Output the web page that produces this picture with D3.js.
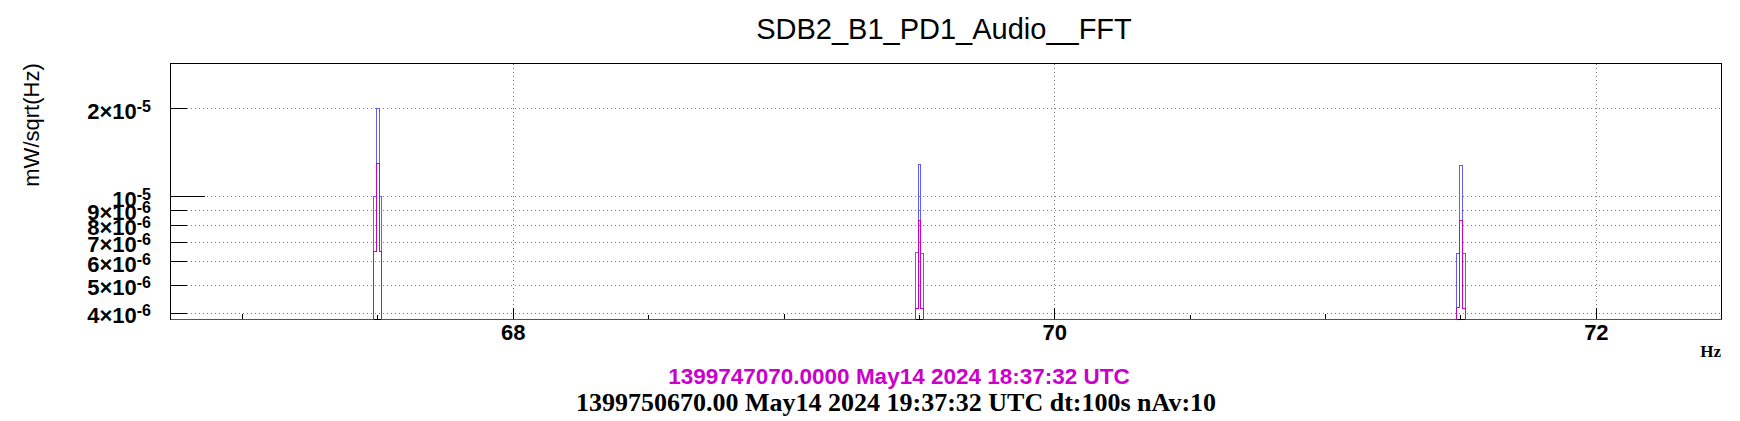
<!DOCTYPE html>
<html><head><meta charset="utf-8">
<script src="https://cdn.jsdelivr.net/npm/d3@7"></script>
<style>body{margin:0;background:#fff;} svg{display:block;}</style>
</head><body>
<svg id="c" width="1740" height="421"></svg>
<script>
// ---- data ----
const title = "SDB2_B1_PD1_Audio__FFT";
const yLabel = "mW/sqrt(Hz)";
const xLabel = "Hz";
const timeRef = "1399747070.0000 May14 2024 18:37:32 UTC";
const timeCur = "1399750670.00 May14 2024 19:37:32 UTC dt:100s nAv:10";
const xDomain = [66.736, 72.464];
const yDomain = [3.80e-6, 2.84e-5];
const binWidth = 0.01;
const binCenters = [67.49, 67.50, 67.51, 69.49, 69.50, 69.51, 71.49, 71.50, 71.51];
const blueValues = [1.0e-5, 2.0e-5, 1.0e-5, 6.48e-6, 1.29e-5, 6.42e-6, 6.42e-6, 1.28e-5, 6.42e-6];
const magentaValues = [6.5e-6, 1.30e-5, 6.5e-6, 4.17e-6, 8.33e-6, 4.17e-6, 4.2e-6, 8.33e-6, 4.17e-6];
const xMajorTicks = [68, 70, 72];
const xMinorTicks = [67, 69, 71];
const xHalfTicks = [67.5, 68.5, 69.5, 70.5, 71.5];
const yTicks = [4e-6, 5e-6, 6e-6, 7e-6, 8e-6, 9e-6, 1e-5, 2e-5];
const yTickMantissa = ["4", "5", "6", "7", "8", "9", "", "2"];
const yTickExponent = ["-6", "-6", "-6", "-6", "-6", "-6", "-5", "-5"];
const yDecadeTicks = [1e-5];

// ---- layout ----
const L = 170.5, R = 1721.5, T = 63.5, B = 319.5;
const svg = d3.select("#c");
svg.append("rect").attr("width", 1740).attr("height", 421).attr("fill", "#fff");

const x = d3.scaleLinear().domain(xDomain).range([L, R]);
const y = d3.scaleLog().domain(yDomain).range([B, T]);

const sans = "'Liberation Sans', Arial, Helvetica, sans-serif";
const serif = "'Liberation Serif', 'Times New Roman', serif";

// grid
const grid = svg.append("g").attr("stroke", "#7a7a7a").attr("stroke-dasharray", "1,3")
  .attr("shape-rendering", "crispEdges").attr("stroke-width", 1);
grid.selectAll("line.gy").data(yTicks).join("line")
  .attr("x1", L).attr("x2", R).attr("y1", d => Math.round(y(d)) + 0.5).attr("y2", d => Math.round(y(d)) + 0.5);
grid.selectAll("line.gx").data(xMajorTicks).join("line")
  .attr("y1", T).attr("y2", B).attr("x1", d => Math.round(x(d)) + 0.5).attr("x2", d => Math.round(x(d)) + 0.5);

// frame
svg.append("rect").attr("x", L).attr("y", T).attr("width", R - L).attr("height", B - T)
  .attr("fill", "none").attr("stroke", "#000").attr("shape-rendering", "crispEdges");

// x axes
function styleAxis(g) {
  g.select(".domain").remove();
  g.selectAll(".tick line").attr("stroke", "#000").attr("shape-rendering", "crispEdges");
}
const xg = svg.append("g").attr("transform", `translate(0,${B})`)
  .call(d3.axisBottom(x).tickValues(xMajorTicks).tickSize(-12).tickPadding(5).tickFormat(d3.format("d")))
  .call(styleAxis);
xg.selectAll(".tick text").attr("font-family", sans).attr("font-size", 22).attr("font-weight", "bold").attr("fill", "#000");
svg.append("g").attr("transform", `translate(0,${B})`)
  .call(d3.axisBottom(x).tickValues(xMinorTicks).tickSize(-6).tickFormat(""))
  .call(styleAxis);
svg.append("g").attr("transform", `translate(0,${B})`)
  .call(d3.axisBottom(x).tickValues(xHalfTicks).tickSize(-5).tickFormat(""))
  .call(styleAxis);

// y axes
const yg = svg.append("g").attr("transform", `translate(${L},0)`)
  .call(d3.axisLeft(y).tickValues(yTicks).tickSize(-16).tickPadding(19.5).tickFormat(""))
  .call(styleAxis);
svg.append("g").attr("transform", `translate(${L},0)`)
  .call(d3.axisLeft(y).tickValues(yDecadeTicks).tickSize(-34).tickFormat(""))
  .call(styleAxis);
yg.selectAll(".tick text").each(function(d) {
  const i = yTicks.indexOf(d);
  const t = d3.select(this).text(null)
    .attr("font-family", sans).attr("font-size", 22).attr("font-weight", "bold")
    .attr("fill", "#000").attr("text-anchor", "end").attr("dy", 10);
  const m = yTickMantissa[i];
  t.append("tspan").text(m ? m + "\u00d710" : "10");
  t.append("tspan").attr("dy", -7).attr("font-size", 16).text(yTickExponent[i]);
});

// histograms
svg.append("clipPath").attr("id", "pc").append("rect")
  .attr("x", L - 1).attr("y", T).attr("width", R - L + 2).attr("height", B - T + 1);
function histPath(vals) {
  const yb = B;
  const px = v => Math.round(x(v)) + 0.5;
  let d = `M${L},${yb}`;
  binCenters.forEach((c, i) => {
    const xl = px(c - binWidth / 2), xr = px(c + binWidth / 2);
    const v = Math.max(vals[i], yDomain[0]);
    const yv = Math.min(Math.round(y(v)) + 0.5, yb);
    d += `H${xl}V${yv}H${xr}`;
    const next = binCenters[i + 1];
    if (next === undefined || Math.abs((next - binWidth / 2) - (c + binWidth / 2)) > 1e-6) d += `V${yb}`;
  });
  d += `H${R}`;
  return d;
}
const hg = svg.append("g").attr("clip-path", "url(#pc)");
hg.append("path").attr("d", histPath(blueValues)).attr("fill", "none")
  .attr("stroke", "#5f5fff").attr("stroke-width", 1).attr("shape-rendering", "crispEdges");
hg.append("path").attr("d", histPath(magentaValues)).attr("fill", "none")
  .attr("stroke", "#cc00cc").attr("stroke-width", 1).attr("shape-rendering", "crispEdges");

// texts
svg.append("text").attr("x", 944).attr("y", 39).attr("text-anchor", "middle")
  .attr("font-family", sans).attr("font-size", 29).attr("fill", "#000").text(title);
svg.append("text").attr("transform", "translate(39,125) rotate(-90)").attr("text-anchor", "middle")
  .attr("font-family", sans).attr("font-size", 22).attr("fill", "#000").text(yLabel);
svg.append("text").attr("x", 1721).attr("y", 357).attr("text-anchor", "end")
  .attr("font-family", serif).attr("font-weight", "bold").attr("font-size", 17).attr("fill", "#000").text(xLabel);
svg.append("text").attr("x", 899).attr("y", 384).attr("text-anchor", "middle")
  .attr("font-family", sans).attr("font-weight", "bold").attr("font-size", 22.5).attr("fill", "#cc00cc").text(timeRef);
svg.append("text").attr("x", 896).attr("y", 411).attr("text-anchor", "middle")
  .attr("font-family", serif).attr("font-weight", "bold").attr("font-size", 26).attr("fill", "#000").text(timeCur);
</script>
</body></html>
